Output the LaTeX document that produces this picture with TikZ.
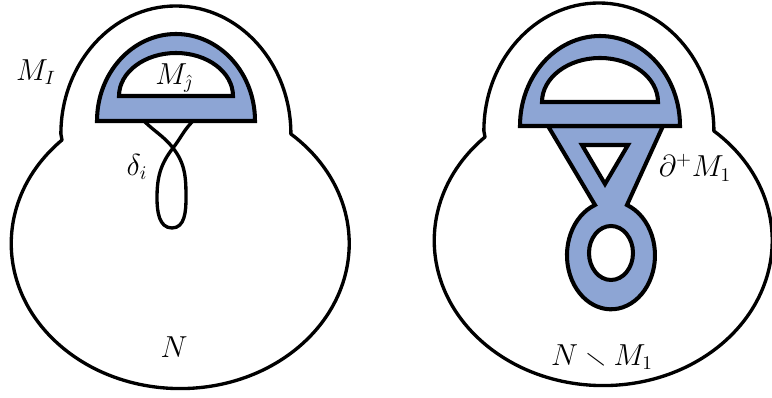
\documentclass[tikz,border=0pt]{standalone}
\usepackage{amsmath,amssymb}
\usepackage{xcolor}
\usepackage{tikz}
\usetikzlibrary{positioning}
\definecolor{bandblue}{RGB}{141,165,212}

\begin{document}
\begin{tikzpicture}[
    x=0.02cm, y=0.02cm,
    rim/.style={draw, line width=1.9pt, line join=round},
    band/.style={draw, fill=bandblue, line width=2.3pt},
    hole/.style={draw, fill=white, line width=2.3pt},
    strand/.style={draw, line width=1.9pt},
    lab/.style={font=\fontsize{16}{19}\selectfont, inner sep=0pt}
  ]
  \useasboundingbox (0,0) rectangle (772,398);

  % left surface
  \draw[rim] (62,258) arc[start angle=134.4, end angle=409.1, x radius=169, y radius=145]
    arc[start angle=0, end angle=180, x radius=115, y radius=128] -- cycle;

  % right surface
  \begin{scope}[shift={(423,3)}]
    \draw[rim] (62,258) arc[start angle=134.4, end angle=409.1, x radius=169, y radius=145]
      arc[start angle=0, end angle=180, x radius=115, y radius=128] -- cycle;
  \end{scope}

  % loop delta_i
  \draw[strand] (144,277) to[out=-45, in=128] (173,250) to[out=-52, in=90] (186,200)
    to[out=-90, in=0] (172,170) to[out=180, in=-90] (157,200)
    to[out=90, in=-128] (173,250) to[out=52, in=-135] (193,277);

  % left band
  \draw[band] (97,277) arc[start angle=180, end angle=0, x radius=79, y radius=87] -- cycle;
  \draw[hole] (119,302) arc[start angle=180, end angle=0, x radius=57, y radius=43] -- cycle;

  % right band
  \draw[band] (548,272) -- (595,193)
    arc[start angle=111.3, end angle=428.7, x radius=44, y radius=54] -- (663,272) -- cycle;
  \draw[hole] (582,253) -- (628,253) -- (605,214) -- cycle;
  \draw[hole] (611,145) ellipse[x radius=22, y radius=27];
  \draw[band] (520,272) arc[start angle=180, end angle=0, x radius=80, y radius=90] -- cycle;
  \draw[hole] (542,296) arc[start angle=180, end angle=0, x radius=58, y radius=44] -- cycle;

  \node[lab] (mI) at (36,326) {$M_I$};
  \node[lab] (mj) at (174,320) {$M_{\hat{\jmath}}$};
  \node[lab] (delta) at (137,231) {$\delta_i$};
  \node[lab] (nL) at (174,51) {$N$};
  \node[lab] (bdry) at (695,230) {$\partial^{+}M_1$};
  \node[lab] (nR) at (602,41) {$N\smallsetminus M_1$};

\end{tikzpicture}
\end{document}
